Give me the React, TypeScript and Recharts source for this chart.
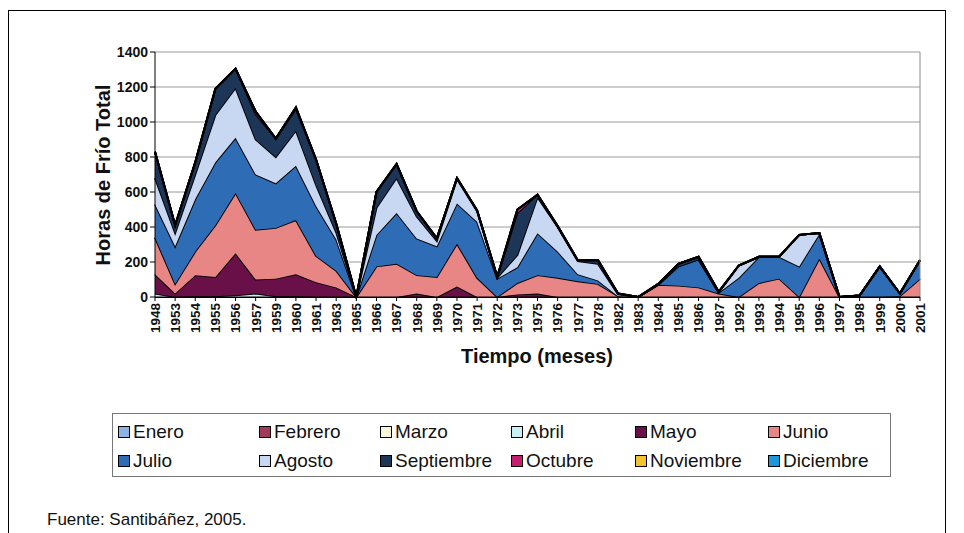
import { Area, AreaChart, CartesianGrid, ReferenceLine, XAxis, YAxis } from "recharts";

const years = [
  "1948", "1953", "1954", "1955", "1956", "1957", "1959", "1960", "1961", "1963",
  "1965", "1966", "1967", "1968", "1969", "1970", "1971", "1972", "1973", "1975",
  "1976", "1977", "1978", "1982", "1983", "1984", "1985", "1986", "1987", "1992",
  "1993", "1994", "1995", "1996", "1997", "1998", "1999", "2000", "2001"
];

const months = [
  "Enero", "Febrero", "Marzo", "Abril", "Mayo", "Junio",
  "Julio", "Agosto", "Septiembre", "Octubre", "Noviembre", "Diciembre"
];

const enero = [0, 0, 0, 0, 0, 0, 0, 0, 0, 0, 0, 0, 0, 0, 0, 0, 0, 0, 0, 0, 0, 0, 0, 0, 0, 0, 0, 0, 0, 0, 0, 0, 0, 0, 0, 0, 0, 0, 0];
const febrero = [0, 0, 0, 0, 0, 0, 0, 0, 0, 0, 0, 0, 0, 0, 0, 0, 0, 0, 0, 0, 0, 0, 0, 0, 0, 0, 0, 0, 0, 0, 0, 0, 0, 0, 0, 0, 0, 0, 0];
const marzo = [0, 0, 0, 0, 0, 0, 0, 0, 0, 0, 0, 0, 0, 0, 0, 0, 0, 0, 0, 0, 0, 0, 0, 0, 0, 0, 0, 0, 0, 0, 0, 0, 0, 0, 0, 0, 0, 0, 0];
const abril = [20, 0, 5, 5, 10, 20, 5, 5, 0, 0, 0, 0, 0, 0, 0, 0, 0, 0, 0, 0, 0, 0, 0, 0, 0, 0, 0, 0, 0, 0, 0, 0, 0, 0, 0, 0, 0, 0, 0];
const mayo = [110, 20, 120, 110, 240, 80, 100, 125, 85, 55, 0, 0, 0, 20, 0, 60, 0, 0, 15, 20, 0, 0, 0, 0, 0, 0, 0, 0, 0, 0, 0, 0, 0, 0, 0, 0, 0, 0, 0];
const junio = [210, 55, 135, 295, 345, 285, 290, 310, 150, 95, 0, 175, 190, 105, 115, 245, 110, 0, 65, 105, 110, 90, 75, 5, 0, 70, 65, 55, 20, 0, 80, 105, 0, 220, 0, 0, 0, 5, 105];
const julio = [190, 215, 300, 360, 315, 315, 255, 310, 285, 180, 0, 180, 290, 210, 175, 230, 320, 105, 90, 240, 150, 40, 20, 0, 0, 0, 110, 160, 5, 110, 150, 125, 175, 140, 0, 8, 175, 15, 105];
const agosto = [150, 75, 140, 270, 285, 200, 150, 200, 120, 40, 0, 155, 200, 125, 30, 140, 60, 5, 70, 205, 140, 75, 95, 10, 0, 0, 0, 0, 0, 70, 0, 0, 180, 5, 0, 0, 0, 0, 0];
const septiembre = [150, 45, 70, 150, 110, 145, 105, 125, 145, 50, 0, 90, 80, 30, 15, 5, 5, 5, 240, 15, 5, 5, 22, 5, 0, 5, 15, 15, 5, 0, 0, 0, 0, 0, 0, 0, 0, 0, 0];
const octubre = [0, 0, 0, 0, 0, 15, 0, 8, 0, 0, 0, 0, 0, 0, 0, 0, 0, 0, 20, 0, 0, 0, 0, 0, 0, 0, 0, 0, 0, 0, 0, 0, 0, 0, 0, 0, 0, 0, 0];
const noviembre = [0, 0, 0, 0, 0, 0, 0, 0, 0, 0, 0, 0, 0, 0, 0, 0, 0, 0, 0, 0, 0, 0, 0, 0, 0, 0, 0, 0, 0, 0, 0, 0, 0, 0, 0, 0, 0, 0, 0];
const diciembre = [0, 0, 0, 0, 0, 0, 0, 0, 0, 0, 0, 0, 0, 0, 0, 0, 0, 0, 0, 0, 0, 0, 0, 0, 0, 0, 0, 0, 0, 0, 0, 0, 0, 0, 0, 0, 0, 0, 0];

const yTicks = [0, 200, 400, 600, 800, 1000, 1200, 1400];

const series = [enero, febrero, marzo, abril, mayo, junio, julio, agosto, septiembre, octubre, noviembre, diciembre];

const colors = [
  "#8fb2e6", "#a23a5c", "#fbf8d8", "#c8f0f5", "#6a1048", "#e88585",
  "#2e6db5", "#c8d8f2", "#1d3557", "#c2206e", "#f2c230", "#1e96dc"
];

const data = years.map((year, i) => {
  const row: Record<string, string | number> = { year };
  months.forEach((m, k) => {
    row[m] = series[k][i];
  });
  return row;
});

const font = "'Liberation Sans', Arial, sans-serif";

function YearTick({ x, y, payload }: any) {
  return (
    <text
      x={x}
      y={y}
      transform={`rotate(-90, ${x}, ${y})`}
      textAnchor="end"
      dy="0.36em"
      fontSize={13.5}
      fontWeight="bold"
      fontFamily={font}
      fill="#111"
    >
      {payload.value}
    </text>
  );
}

const legendCols = [118, 259, 380, 511, 635, 768];
const legendRows = [432, 461];

export default function App() {
  return (
    <div
      style={{
        position: "absolute",
        left: 0,
        top: 0,
        width: 964,
        height: 533,
        overflow: "hidden",
        background: "#fff",
        fontFamily: font
      }}
    >
      <div
        style={{
          position: "absolute",
          left: 8,
          top: 10,
          width: 936,
          height: 523,
          borderTop: "1px solid #000",
          borderLeft: "1px solid #000",
          borderRight: "1px solid #000"
        }}
      />
      <div style={{ position: "absolute", left: 0, top: 0 }}>
        <AreaChart
          width={964}
          height={400}
          data={data}
          margin={{ top: 52, right: 44, bottom: 43, left: 60 }}
        >
          <CartesianGrid vertical={false} stroke="#9a9a9a" />
          <XAxis
            dataKey="year"
            interval={0}
            height={60}
            tick={<YearTick />}
            tickSize={4}
            tickMargin={2}
            stroke="#000"
          />
          <YAxis
            width={95}
            domain={[0, 1400]}
            ticks={yTicks}
            tickSize={5}
            tick={{ fontSize: 14, fontWeight: "bold", fill: "#111", fontFamily: font }}
            stroke="#000"
          />
          <ReferenceLine x="2001" stroke="#8a8a8a" />
          {months.map((m, k) => (
            <Area
              key={m}
              type="linear"
              dataKey={m}
              stackId="1"
              stroke="#000"
              strokeWidth={2}
              fill={colors[k]}
              fillOpacity={1}
              isAnimationActive={false}
              dot={false}
              activeDot={false}
            />
          ))}
        </AreaChart>
      </div>
      <div
        style={{
          position: "absolute",
          left: 103,
          top: 175,
          transform: "translate(-50%, -50%) rotate(-90deg)",
          whiteSpace: "nowrap",
          fontSize: 20,
          fontWeight: "bold",
          color: "#111"
        }}
      >
        Horas de Frío Total
      </div>
      <div
        style={{
          position: "absolute",
          left: 537,
          top: 356,
          transform: "translate(-50%, -50%)",
          whiteSpace: "nowrap",
          fontSize: 20,
          fontWeight: "bold",
          color: "#111"
        }}
      >
        Tiempo (meses)
      </div>
      <div
        style={{
          position: "absolute",
          left: 112,
          top: 413,
          width: 777,
          height: 62,
          border: "1px solid #777"
        }}
      />
      {months.map((m, k) => (
        <div
          key={m}
          style={{
            position: "absolute",
            left: legendCols[k % 6],
            top: legendRows[Math.floor(k / 6)],
            transform: "translateY(-50%)",
            display: "flex",
            alignItems: "center",
            whiteSpace: "nowrap",
            fontSize: 19,
            color: "#111"
          }}
        >
          <span
            style={{
              display: "inline-block",
              width: 10,
              height: 10,
              background: colors[k],
              border: "1px solid #000",
              marginRight: 3
            }}
          />
          {m}
        </div>
      ))}
      <div
        style={{
          position: "absolute",
          left: 47,
          top: 520,
          transform: "translateY(-50%)",
          fontSize: 17,
          color: "#111",
          whiteSpace: "nowrap"
        }}
      >
        Fuente: Santibáñez, 2005.
      </div>
    </div>
  );
}
